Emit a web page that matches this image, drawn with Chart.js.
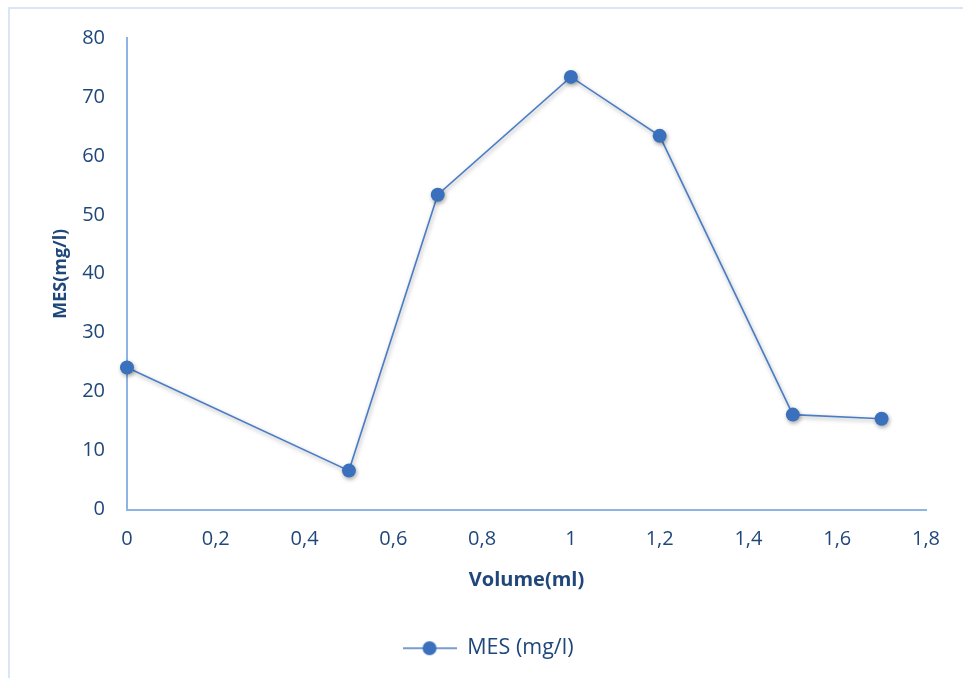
<!DOCTYPE html>
<html>
<head>
<meta charset="utf-8">
<script src="https://cdn.jsdelivr.net/npm/chart.js@4.4.1/dist/chart.umd.min.js"></script>
<style>
  html, body { margin: 0; padding: 0; background: #ffffff; overflow: hidden; }
  #frame {
    position: absolute; left: 8px; top: 7px; width: 1000px; height: 720px;
    border: 2px solid #dae6f5; box-sizing: border-box;
  }
  #wrap { position: absolute; left: 0; top: 0; width: 963px; height: 678px; }
</style>
</head>
<body>
<div id="frame"></div>
<div id="wrap"><canvas id="chart" width="963" height="678"></canvas></div>
<script>
// Volume added (ml) and measured suspended matter (mg/l)
const volumes = [0, 0.5, 0.7, 1.0, 1.2, 1.5, 1.7];
const mesValues = [24.1, 6.6, 53.4, 73.4, 63.4, 16.1, 15.4];
const xTickLabels = ['0', '0,2', '0,4', '0,6', '0,8', '1', '1,2', '1,4', '1,6', '1,8'];
const yTickLabels = ['0', '10', '20', '30', '40', '50', '60', '70', '80'];
const seriesName = 'MES (mg/l)';

const textColor = '#1f477a';
const axisColor = '#8eb4e3';
const lineColor = '#4a7dc5';
const markerColor = '#3b70bd';
const fontFamily = "'Open Sans', 'Liberation Sans', sans-serif";

// Legend symbol: short line with a marker in the middle
function legendSymbol() {
  const c = document.createElement('canvas');
  c.width = 54; c.height = 18;
  const g = c.getContext('2d');
  g.strokeStyle = lineColor; g.lineWidth = 1.5;
  g.beginPath(); g.moveTo(0, 9); g.lineTo(54, 9); g.stroke();
  g.fillStyle = markerColor;
  g.beginPath(); g.arc(27, 9, 7, 0, Math.PI * 2); g.fill();
  return c;
}
const symbol = legendSymbol();

// Soft drop shadow under the series
const shadowPlugin = {
  id: 'seriesShadow',
  beforeDatasetsDraw(chart) {
    const ctx = chart.ctx;
    ctx.save();
    ctx.shadowColor = 'rgba(0,0,0,0.35)';
    ctx.shadowBlur = 4;
    ctx.shadowOffsetX = 1;
    ctx.shadowOffsetY = 2;
  },
  afterDatasetsDraw(chart) { chart.ctx.restore(); }
};

new Chart(document.getElementById('chart'), {
  type: 'line',
  data: {
    datasets: [{
      label: seriesName,
      data: volumes.map((v, i) => ({ x: v, y: mesValues[i] })),
      borderColor: lineColor,
      borderWidth: 1.6,
      pointRadius: 7,
      pointHoverRadius: 7,
      pointBackgroundColor: markerColor,
      pointBorderColor: markerColor,
      pointBorderWidth: 0,
      tension: 0,
      fill: false,
      clip: false
    }]
  },
  options: {
    responsive: false,
    animation: false,
    devicePixelRatio: 1,
    layout: { padding: { left: 50, right: 37, top: 38, bottom: 9 } },
    plugins: {
      tooltip: { enabled: false },
      legend: {
        position: 'bottom',
        labels: {
          usePointStyle: true,
          pointStyleWidth: 54,
          boxHeight: 18,
          padding: 42,
          color: textColor,
          font: { family: fontFamily, size: 21.5 },
          generateLabels(chart) {
            return [{
              text: seriesName, pointStyle: symbol, fontColor: textColor,
              fillStyle: markerColor, strokeStyle: lineColor, lineWidth: 0,
              hidden: false, datasetIndex: 0
            }];
          }
        }
      }
    },
    scales: {
      x: {
        type: 'linear',
        min: 0, max: 1.8,
        grid: { display: false, drawTicks: false },
        border: { display: true, color: axisColor, width: 2 },
        ticks: {
          stepSize: 0.2,
          padding: 18,
          color: textColor,
          font: { family: fontFamily, size: 20 },
          maxRotation: 0,
          autoSkip: false,
          callback: (v, i) => xTickLabels[i]
        },
        title: {
          display: true, text: 'Volume(ml)', color: textColor,
          font: { family: fontFamily, size: 20, weight: 'bold' },
          padding: { top: 0, bottom: 3 }
        },
        afterFit(scale) { scale.height = 86; }
      },
      y: {
        min: 0, max: 80,
        grid: { display: false, drawTicks: false },
        border: { display: true, color: axisColor, width: 2 },
        ticks: {
          stepSize: 10,
          padding: 22,
          color: textColor,
          font: { family: fontFamily, size: 20 },
          callback: (v, i) => yTickLabels[i]
        },
        title: {
          display: true, text: 'MES(mg/l)', color: textColor,
          font: { family: fontFamily, size: 18, weight: 'bold' },
          padding: { top: 0, bottom: 0 }
        },
        afterFit(scale) { scale.width = 77; }
      }
    }
  },
  plugins: [shadowPlugin]
});
</script>
</body>
</html>
